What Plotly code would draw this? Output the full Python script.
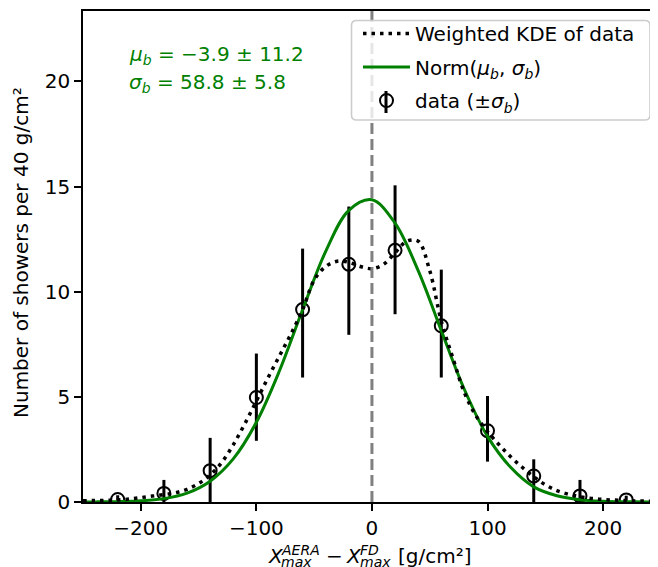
import plotly.graph_objects as go

# ---------------- data ----------------
bin_centers = [-220, -180, -140, -100, -60, -20, 20, 60, 100, 140, 180, 220]
counts      = [0.12, 0.41, 1.49, 4.97, 9.15, 11.31, 11.97, 8.38, 3.39, 1.24, 0.29, 0.10]
err_plus    = [0.20, 0.64, 1.56, 2.09, 2.90, 2.74, 3.09, 2.67, 1.65, 0.79, 0.76, 0.20]
err_minus   = [0.12, 0.41, 1.49, 2.06, 3.23, 3.36, 3.04, 2.46, 1.47, 1.24, 0.29, 0.10]

norm_x = [-250, -240, -220, -200, -180, -160, -140, -120, -100, -80, -60, -40, -20,
          0, 20, 40, 60, 80, 100, 120, 140, 160, 180, 200, 220, 240, 250]
norm_y = [0.002, 0.005, 0.017, 0.055, 0.16, 0.42, 0.99, 2.05, 3.79, 6.24, 9.14, 11.92, 13.87,
          14.37, 13.26, 11.0, 8.15, 5.35, 3.12, 1.65, 0.72, 0.30, 0.11, 0.035, 0.01, 0.003, 0.002]

kde_x = [-250, -240, -230, -220, -210, -200, -190, -180, -170, -160, -150, -140, -130,
         -120, -110, -100, -90, -80, -70, -60, -50, -40, -30, -20, -10, 0, 10, 20, 30,
         40, 50, 60, 70, 80, 90, 100, 110, 120, 130, 140, 150, 160, 170, 180, 190, 200,
         210, 220, 230, 240, 250]
kde_y = [0.06, 0.07, 0.08, 0.10, 0.14, 0.21, 0.28, 0.35, 0.44, 0.60, 0.88, 1.28, 1.88,
         2.72, 3.72, 4.80, 5.90, 6.95, 8.00, 9.15, 10.55, 11.20, 11.45, 11.40, 11.20, 11.10,
         11.30, 11.85, 12.40, 12.40, 11.00, 8.60, 6.85, 5.20, 4.10, 3.35, 2.72, 2.15, 1.65,
         1.20, 0.82, 0.54, 0.37, 0.25, 0.17, 0.12, 0.09, 0.07, 0.05, 0.04, 0.03]

x_ticks = [-200, -100, 0, 100, 200]
x_tick_labels = ["\u2212200", "\u2212100", "0", "100", "200"]
y_ticks = [0, 5, 10, 15, 20]
y_tick_labels = ["0", "5", "10", "15", "20"]

mu_text = "<i>\u03bc</i><sub><i>b</i></sub> = \u22123.9 \u00b1 11.2"
sigma_text = "<i>\u03c3</i><sub><i>b</i></sub> = 58.8 \u00b1 5.8"

FONT = "DejaVu Sans"
GREEN = "#008000"

fig = go.Figure()

fig.add_trace(go.Scatter(
    x=bin_centers, y=counts, mode="markers",
    name="data (\u00b1<i>\u03c3</i><sub><i>b</i></sub>)",
    marker=dict(symbol="circle-open", size=13, color="black", line=dict(width=2, color="black")),
    error_y=dict(type="data", symmetric=False, array=err_plus, arrayminus=err_minus,
                 thickness=3, width=0, color="black"),
    legendrank=3, legendgroup="c",
))
fig.add_trace(go.Scatter(
    x=norm_x, y=norm_y, mode="lines", line_shape="spline",
    name="Norm(<i>\u03bc</i><sub><i>b</i></sub>, <i>\u03c3</i><sub><i>b</i></sub>)",
    line=dict(color=GREEN, width=3),
    legendrank=2, legendgroup="b",
))
fig.add_trace(go.Scatter(
    x=kde_x, y=kde_y, mode="lines", line_shape="spline",
    name="Weighted KDE of data",
    line=dict(color="black", width=3.5, dash="3.5px,5px"),
    legendrank=1, legendgroup="a",
))

# page offset: the browser body adds an 8px margin
OFF = 8
PLOT_LEFT, PLOT_RIGHT, PLOT_TOP, PLOT_BOTTOM = 83, 658, 11, 502
PW = PLOT_RIGHT - PLOT_LEFT
PH = PLOT_BOTTOM - PLOT_TOP

def px_x(px):
    return (px - PLOT_LEFT) / PW

def px_y(py):
    return (PLOT_BOTTOM - py) / PH

fig.add_shape(type="line", xref="x", yref="paper", x0=0, x1=0, y0=0, y1=1,
              line=dict(color="#808080", width=3, dash="11px,5px"))

# rounded legend frame (matplotlib style)
bx0, bx1, by0, by1, r = 351.5, 650, 20.5, 120, 5
path = (f"M{px_x(bx0 + r)},{px_y(by0)} L{px_x(bx1 - r)},{px_y(by0)} "
        f"Q{px_x(bx1)},{px_y(by0)} {px_x(bx1)},{px_y(by0 + r)} "
        f"L{px_x(bx1)},{px_y(by1 - r)} Q{px_x(bx1)},{px_y(by1)} {px_x(bx1 - r)},{px_y(by1)} "
        f"L{px_x(bx0 + r)},{px_y(by1)} Q{px_x(bx0)},{px_y(by1)} {px_x(bx0)},{px_y(by1 - r)} "
        f"L{px_x(bx0)},{px_y(by0 + r)} Q{px_x(bx0)},{px_y(by0)} {px_x(bx0 + r)},{px_y(by0)} Z")
fig.add_shape(type="path", xref="paper", yref="paper", path=path, layer="above",
              fillcolor="rgba(255,255,255,0.8)", line=dict(color="#cccccc", width=1.6))
# error-bar stroke of the legend's data handle
fig.add_shape(type="line", xref="paper", yref="paper", layer="above",
              x0=px_x(386), x1=px_x(386), y0=px_y(91), y1=px_y(113),
              line=dict(color="black", width=3))

axis_common = dict(showline=True, linewidth=1.6, linecolor="black", ticks="outside",
                   ticklen=7, tickwidth=1.6, tickcolor="black", showgrid=False,
                   zeroline=False, tickfont=dict(family=FONT, size=20, color="black"))

fig.update_xaxes(range=[-250, 247.5], tickvals=x_ticks, ticktext=x_tick_labels,
                 mirror=True, **axis_common)
fig.update_yaxes(range=[0, 23.35], tickvals=y_ticks, ticktext=y_tick_labels,
                 mirror=False, **axis_common)

def ann(text, px, py, size=20, color="black", xanchor="left", angle=0):
    return dict(xref="paper", yref="paper", x=0, y=0, xshift=px - PLOT_LEFT,
                yshift=PLOT_BOTTOM - py, xanchor=xanchor, yanchor="middle",
                showarrow=False, text=text, textangle=angle,
                font=dict(family=FONT, size=size, color=color))

annotations = [
    # x-axis title pieces (stacked super/subscripts like mathtext)
    ann("<i>X</i>", 265.5, 556),
    ann("<i>AERA</i>", 279, 550, size=14),
    ann("<i>max</i>", 279, 562, size=14),
    ann("\u2212", 323.5, 556),
    ann("<i>X</i>", 343.5, 556),
    ann("<i>FD</i>", 358, 550, size=14),
    ann("<i>max</i>", 358, 562, size=14),
    ann("[g/cm\u00b2]", 395.5, 556),
    # y-axis title
    ann("Number of showers per 40 g/cm\u00b2", 21, 253, xanchor="center", angle=-90),
    # fit result text
    ann(mu_text, 127, 55, color=GREEN),
    ann(sigma_text, 127, 83, color=GREEN),
]

fig.update_layout(
    width=658 - OFF, height=567 - OFF,
    margin=dict(l=PLOT_LEFT - OFF, r=0, t=PLOT_TOP - OFF, b=65),
    paper_bgcolor="white", plot_bgcolor="white",
    font=dict(family=FONT, size=20, color="black"),
    annotations=annotations,
    showlegend=True,
    legend=dict(x=px_x(358), xanchor="left", y=px_y(14), yanchor="top",
                bgcolor="rgba(0,0,0,0)", borderwidth=0,
                font=dict(family=FONT, size=20, color="black"),
                traceorder="grouped", itemwidth=47, tracegroupgap=4.5),
)

fig.write_html("out.html")
